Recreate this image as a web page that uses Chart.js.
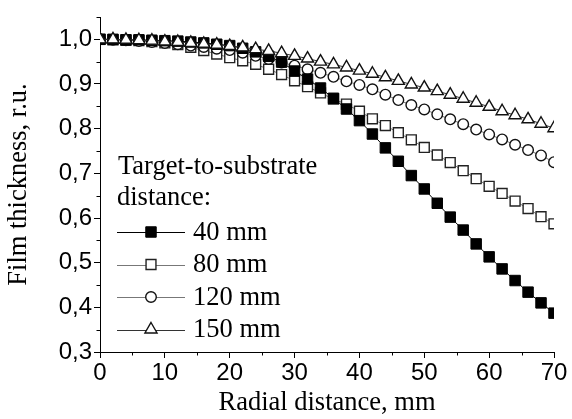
<!DOCTYPE html>
<html>
<head>
<meta charset="utf-8">
<script src="https://cdn.jsdelivr.net/npm/chart.js@4/dist/chart.umd.min.js"></script>
<style>
  html, body { margin: 0; padding: 0; background: #fff; }
  #c { display: block; }
</style>
</head>
<body>
<canvas id="c" width="572" height="419"></canvas>
<script>
// ---- data ----
const radialMm = [0,2,4,6,8,10,12,14,16,18,20,22,24,26,28,30,32,34,36,38,40,42,44,46,48,50,52,54,56,58,60,62,64,66,68,70];
const d40  = [1.000,1.000,0.999,0.999,0.998,0.997,0.996,0.994,0.992,0.989,0.986,0.980,0.972,0.962,0.949,0.929,0.911,0.891,0.868,0.844,0.818,0.788,0.757,0.727,0.695,0.665,0.633,0.602,0.573,0.542,0.513,0.486,0.460,0.434,0.410,0.387];
const d80  = [1.000,0.999,0.998,0.997,0.995,0.992,0.988,0.982,0.975,0.967,0.959,0.952,0.944,0.933,0.921,0.907,0.894,0.880,0.866,0.855,0.839,0.822,0.807,0.791,0.775,0.758,0.741,0.724,0.706,0.688,0.671,0.655,0.638,0.621,0.603,0.587];
const d120 = [1.000,0.999,0.998,0.996,0.994,0.992,0.989,0.986,0.983,0.979,0.976,0.970,0.963,0.956,0.948,0.941,0.933,0.925,0.916,0.906,0.898,0.888,0.876,0.864,0.853,0.843,0.832,0.821,0.810,0.798,0.787,0.776,0.764,0.752,0.740,0.725];
const d150 = [1.000,1.000,0.999,0.998,0.997,0.995,0.994,0.992,0.990,0.988,0.985,0.982,0.978,0.974,0.969,0.963,0.957,0.950,0.944,0.937,0.930,0.923,0.915,0.907,0.899,0.892,0.884,0.876,0.867,0.858,0.849,0.839,0.830,0.821,0.811,0.801];
const seriesLabels = ['40 mm', '80 mm', '120 mm', '150 mm'];
const legendTitle = ['Target-to-substrate', 'distance:'];
const xTitle = 'Radial distance, mm';
const yTitle = 'Film thickness, r.u.';
const xMin = 0, xMax = 70, xStep = 10;
const yMin = 0.3, yMax = 1.05, yStep = 0.1;

const pts = arr => arr.map((v, i) => ({ x: radialMm[i], y: v }));

const SERIF = '"Liberation Serif", "Times New Roman", serif';
const SANS = '"Liberation Sans", Arial, sans-serif';

const styles = [
  { pointStyle: 'rect', pointRadius: 7.4, backgroundColor: '#000', borderColor: '#000', lineColor: '#000', pointBorderWidth: 1, order: 1 },
  { pointStyle: 'rect', pointRadius: 7.0, backgroundColor: '#fff', borderColor: '#222', lineColor: '#777', pointBorderWidth: 1.4, order: 3 },
  { pointStyle: 'circle', pointRadius: 5.3, backgroundColor: '#fff', borderColor: '#111', lineColor: '#777', pointBorderWidth: 1.4, order: 2 },
  { pointStyle: 'triangle', pointRadius: 7.0, backgroundColor: '#fff', borderColor: '#111', lineColor: '#333', pointBorderWidth: 1.4, order: 0 }
];
const seriesData = [d40, d80, d120, d150];

const datasets = seriesData.map((d, i) => ({
  label: seriesLabels[i],
  data: pts(d),
  showLine: true,
  borderColor: styles[i].lineColor,
  borderWidth: 1,
  pointStyle: styles[i].pointStyle,
  pointRadius: styles[i].pointRadius,
  pointBackgroundColor: styles[i].backgroundColor,
  pointBorderColor: styles[i].borderColor,
  pointBorderWidth: styles[i].pointBorderWidth,
  order: styles[i].order,
  tension: 0
}));

function drawMarker(ctx, style, r, x, y, fill, stroke, bw) {
  ctx.save();
  ctx.beginPath();
  if (style === 'rect') {
    const s = Math.SQRT1_2 * r;
    ctx.rect(x - s, y - s, 2 * s, 2 * s);
  } else if (style === 'circle') {
    ctx.arc(x, y, r, 0, Math.PI * 2);
  } else if (style === 'triangle') {
    ctx.moveTo(x, y - r);
    ctx.lineTo(x + r * Math.sin(Math.PI / 3), y + r / 2);
    ctx.lineTo(x - r * Math.sin(Math.PI / 3), y + r / 2);
    ctx.closePath();
  }
  ctx.fillStyle = fill; ctx.fill();
  ctx.lineWidth = bw; ctx.strokeStyle = stroke; ctx.stroke();
  ctx.restore();
}

const minorTicks = {
  id: 'minorTicks',
  afterDraw(chart) {
    const ctx = chart.ctx;
    const xs = chart.scales.x, ys = chart.scales.y;
    ctx.save();
    ctx.strokeStyle = '#000';
    ctx.lineWidth = 1;
    ctx.beginPath();
    for (let v = xMin + xStep / 2; v < xMax; v += xStep) {
      const px = Math.round(xs.getPixelForValue(v)) + 0.5;
      ctx.moveTo(px, ys.bottom); ctx.lineTo(px, ys.bottom + 3.5);
    }
    for (let k = 0; ; k++) {
      const v = yMin + yStep / 2 + k * yStep;
      if (v > yMax + 1e-9) break;
      const py = Math.round(ys.getPixelForValue(v)) + 0.5;
      ctx.moveTo(xs.left, py); ctx.lineTo(xs.left - 3.5, py);
    }
    ctx.stroke();
    ctx.restore();
  }
};

const insideLegend = {
  id: 'insideLegend',
  afterDraw(chart) {
    const ctx = chart.ctx;
    ctx.save();
    ctx.fillStyle = '#000';
    ctx.font = '26.5px ' + SERIF;
    ctx.textBaseline = 'middle';
    ctx.textAlign = 'left';
    ctx.fillText(legendTitle[0], 118, 167);
    ctx.fillText(legendTitle[1], 117, 198);
    const rowY0 = 232, rowDy = 32.5;
    for (let i = 0; i < seriesLabels.length; i++) {
      const y = rowY0 + i * rowDy;
      const st = styles[i];
      ctx.beginPath();
      ctx.strokeStyle = st.lineColor;
      ctx.lineWidth = 1;
      ctx.moveTo(117, Math.round(y) + 0.5); ctx.lineTo(185, Math.round(y) + 0.5);
      ctx.stroke();
      drawMarker(ctx, st.pointStyle, st.pointRadius, 151, y, st.backgroundColor, st.borderColor, st.pointBorderWidth);
      ctx.fillStyle = '#000';
      ctx.fillText(seriesLabels[i], 193, y + 1);
    }
    ctx.restore();
  }
};

new Chart(document.getElementById('c'), {
  type: 'scatter',
  data: { datasets },
  options: {
    responsive: false,
    animation: false,
    devicePixelRatio: 1,
    layout: { padding: { top: 17, right: 18, left: 0, bottom: 0 } },
    plugins: { legend: { display: false }, tooltip: { enabled: false } },
    scales: {
      x: {
        type: 'linear', min: xMin, max: xMax,
        afterFit: s => { s.height = 67; },
        grid: { display: true, drawOnChartArea: false, drawTicks: true, tickLength: 6, color: '#000', tickColor: '#000' },
        border: { display: true, color: '#000', width: 1 },
        ticks: { stepSize: xStep, color: '#000', font: { family: SANS, size: 24 }, padding: 1, maxRotation: 0, includeBounds: false },
        title: { display: true, text: xTitle, color: '#000', font: { family: SERIF, size: 26.5 }, padding: { top: 0, bottom: 0 } }
      },
      y: {
        type: 'linear', min: yMin, max: yMax,
        afterFit: s => { s.width = 100; },
        grid: { display: true, drawOnChartArea: false, drawTicks: true, tickLength: 6, color: '#000', tickColor: '#000' },
        border: { display: true, color: '#000', width: 1 },
        ticks: { stepSize: yStep, includeBounds: false, color: '#000', font: { family: SANS, size: 24 }, padding: 2,
          callback: v => (Math.abs(v * 10 - Math.round(v * 10)) < 1e-6) ? v.toFixed(1).replace('.', ',') : '' },
        title: { display: true, text: yTitle, color: '#000', font: { family: SERIF, size: 26.5 }, padding: { top: 3, bottom: 0 } }
      }
    }
  },
  plugins: [minorTicks, insideLegend]
});
</script>
</body>
</html>
